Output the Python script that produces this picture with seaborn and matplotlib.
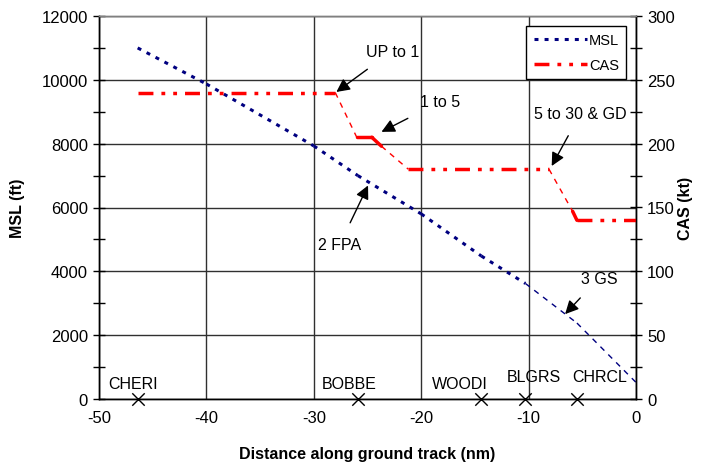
import matplotlib
matplotlib.use("Agg")
import matplotlib.pyplot as plt
import seaborn as sns
import pandas as pd
from matplotlib.lines import Line2D

# ---- data ----
msl_x = [-46.4, -40, -30, -25.9, -20, -14.4, -10.3, -5.5, 0]
msl_y = [11000, 9870, 7930, 7000, 5800, 4480, 3620, 2380, 520]
msl_style = ["dot", "dot", "dot", "dot", "dot", "dot", "thin", "thin"]

cas_x = [-46.4, -28, -26, -24.6, -23.7, -21.2, -8.1, -5.9, -5.5, 0]
cas_y = [240, 240, 205, 205, 198, 180, 180, 147, 140, 140]
cas_style = ["dashdot", "thin", "solid", "solid", "thin", "dashdot", "thin", "solid", "dashdot"]

wp_names = ["CHERI", "BOBBE", "WOODI", "BLGRS", "CHRCL"]
wp_x = [-46.4, -25.9, -14.4, -10.3, -5.5]
wp_label_x = [-46.8, -26.7, -16.4, -9.5, -3.4]
wp_label_y = [500, 500, 500, 720, 720]

notes = ["UP to 1", "1 to 5", "5 to 30 & GD", "2 FPA", "3 GS"]
note_xy = [(-27.9, 9620), (-23.7, 8370), (-7.85, 7300), (-24.95, 6690), (-6.6, 2660)]
note_text = [(-22.7, 10900), (-18.25, 9310), (-5.2, 8930), (-27.6, 4830), (-3.45, 3790)]

FONT = ["Liberation Sans", "DejaVu Sans"]
sns.set_theme(style="white")
plt.rcParams["font.family"] = FONT
plt.rcParams["font.size"] = 11.5
plt.rcParams["axes.unicode_minus"] = False
plt.rcParams["text.color"] = "black"
plt.rcParams["axes.labelcolor"] = "black"
plt.rcParams["xtick.color"] = "black"
plt.rcParams["ytick.color"] = "black"

fig = plt.figure(figsize=(7.02, 4.64), dpi=100)
ax = fig.add_axes([99 / 702, 1 - 400 / 464, (636 - 99) / 702, (400 - 17) / 464])
ax2 = ax.twinx()

NAVY = "#000080"
RED = "#ff0000"

def seg_kw(style, color):
    if style == "dot":
        return dict(lw=2.2, dashes=(1.3, 2.0), color=color, solid_capstyle="butt", dash_capstyle="butt")
    if style == "thin":
        return dict(lw=1.0, dashes=(4, 4), color=color)
    if style == "solid":
        return dict(lw=2.5, color=color, linestyle="-")
    if style == "dashdot":
        return dict(lw=2.5, dashes=(4.3, 2.3, 1.1, 2.3, 1.1, 2.3), color=color, dash_capstyle="butt")

for i, st in enumerate(msl_style):
    d = pd.DataFrame({"x": msl_x[i:i + 2], "y": msl_y[i:i + 2]})
    sns.lineplot(data=d, x="x", y="y", ax=ax, sort=False, legend=False, **seg_kw(st, NAVY))

for i, st in enumerate(cas_style):
    d = pd.DataFrame({"x": cas_x[i:i + 2], "y": cas_y[i:i + 2]})
    sns.lineplot(data=d, x="x", y="y", ax=ax2, sort=False, legend=False, **seg_kw(st, RED))

# waypoints
wp = pd.DataFrame({"x": wp_x, "y": [0] * len(wp_x)})
sns.scatterplot(data=wp, x="x", y="y", ax=ax, marker="x", s=80, color="black",
                linewidth=1.0, clip_on=False, zorder=5, legend=False)
for n, lx, ly in zip(wp_names, wp_label_x, wp_label_y):
    ax.text(lx, ly, n, ha="center", va="center", fontsize=11.5, color="black")

# annotations
for t, xy, xyt in zip(notes, note_xy, note_text):
    ax.annotate(t, xy=xy, xytext=xyt, ha="center", va="center", fontsize=11.5, color="black",
                arrowprops=dict(arrowstyle="-|>", color="black", lw=1.0,
                                mutation_scale=20, shrinkA=9, shrinkB=0))

# axes
ax.set_xlim(-50, 0)
ax.set_ylim(0, 12000)
ax2.set_ylim(0, 300)
ax.set_xticks(range(-50, 1, 10))
ax.set_xticks(range(-45, 0, 10), minor=True)
ax.set_yticks(range(0, 12001, 2000))
ax.set_yticks(range(1000, 12000, 2000), minor=True)
ax2.set_yticks(range(0, 301, 50))
ax2.set_yticks(range(25, 300, 50), minor=True)

ax.grid(True, which="major", color="#303030", lw=1.0)
ax.set_axisbelow(True)

for a in (ax, ax2):
    a.tick_params(which="both", direction="inout", length=8, width=1, colors="black",
                  labelcolor="black", labelsize=12, pad=4)
    for s in a.spines.values():
        s.set_color("black")
        s.set_linewidth(1)
    a.spines["top"].set_color("#808080")

ax.set_xlabel("Distance along ground track (nm)", fontsize=11.5, fontweight="bold",
              labelpad=15, color="black")
ax.set_ylabel("MSL (ft)", fontsize=11.5, fontweight="bold", labelpad=12, color="black")
ax2.set_ylabel("CAS (kt)", fontsize=11.5, fontweight="bold", labelpad=2, color="black")

handles = [Line2D([], [], **seg_kw("dot", NAVY)), Line2D([], [], **seg_kw("dashdot", RED))]
leg = ax2.legend(handles, ["MSL", "CAS"], loc="upper right", bbox_to_anchor=(0.982, 0.975),
                 frameon=True, fancybox=False, edgecolor="black", fontsize=10.5,
                 handlelength=3.7, handletextpad=0.1, borderpad=0.5, labelspacing=0.75,
                 borderaxespad=0)
for txt in leg.get_texts():
    txt.set_color("black")
leg.get_frame().set_linewidth(1)
leg.get_frame().set_facecolor("white")
leg.get_frame().set_alpha(1)

fig.savefig("out.png", dpi=100)
